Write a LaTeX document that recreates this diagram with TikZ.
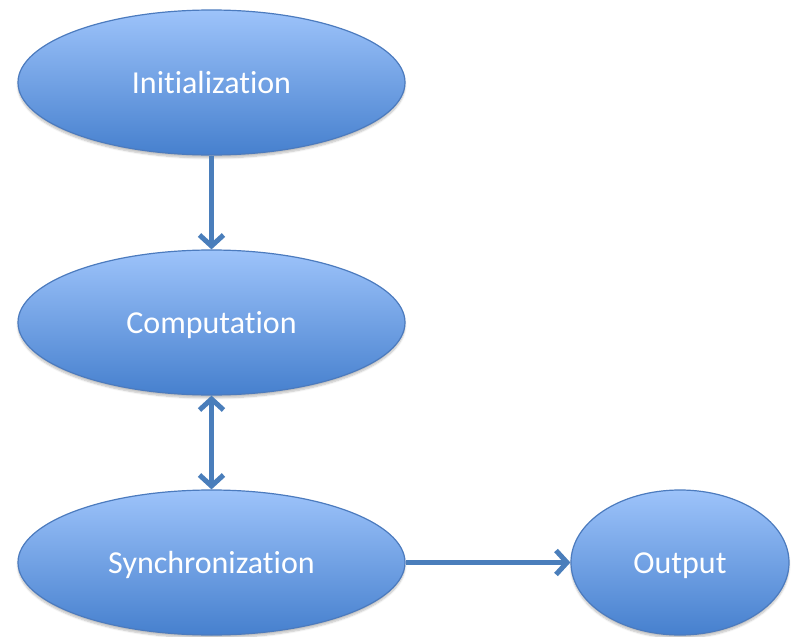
\documentclass[tikz,border=0pt]{standalone}
\usepackage{fontspec}
\setmainfont{Carlito}[Ligatures={NoCommon}]
\usetikzlibrary{arrows.meta,shapes.geometric,shadows.blur}
\definecolor{topblue}{HTML}{9DC3FA}
\definecolor{botblue}{HTML}{4680CE}
\definecolor{rimblue}{HTML}{4C7BBE}
\definecolor{linkblue}{HTML}{4A7EBB}
\tikzset{
  stage/.style={ellipse, draw=rimblue, line width=1.2pt,
    top color=topblue, bottom color=botblue,
    text=white, font=\fontsize{32}{36}\selectfont, inner sep=0pt,
    text height=22pt, text depth=0pt,
    blur shadow={shadow xshift=0pt, shadow yshift=-3pt, shadow blur steps=6, shadow opacity=25}},
  barb/.tip={Straight Barb[length=11pt,width=24pt,line width=5pt]},
  link/.style={draw=linkblue, line width=5pt, -barb},
  twoway/.style={link, barb-barb}
}
\begin{document}
\begin{tikzpicture}[x=1pt,y=-1pt]
  \useasboundingbox (0,0) rectangle (796,637);
  \node[stage, minimum width=387pt, minimum height=145pt] (init) at (211.5,82.5) {Initialization};
  \node[stage, minimum width=387pt, minimum height=145pt] (comp) at (211.5,322.5) {Computation};
  \node[stage, minimum width=387pt, minimum height=145pt] (sync) at (211.5,562.5) {Synchronization};
  \node[stage, minimum width=218pt, minimum height=145pt] (out) at (680,562.5) {Output};
  \draw[link] (init) -- (comp);
  \draw[twoway] (comp) -- (sync);
  \draw[link] (sync) -- (out);
\end{tikzpicture}
\end{document}
